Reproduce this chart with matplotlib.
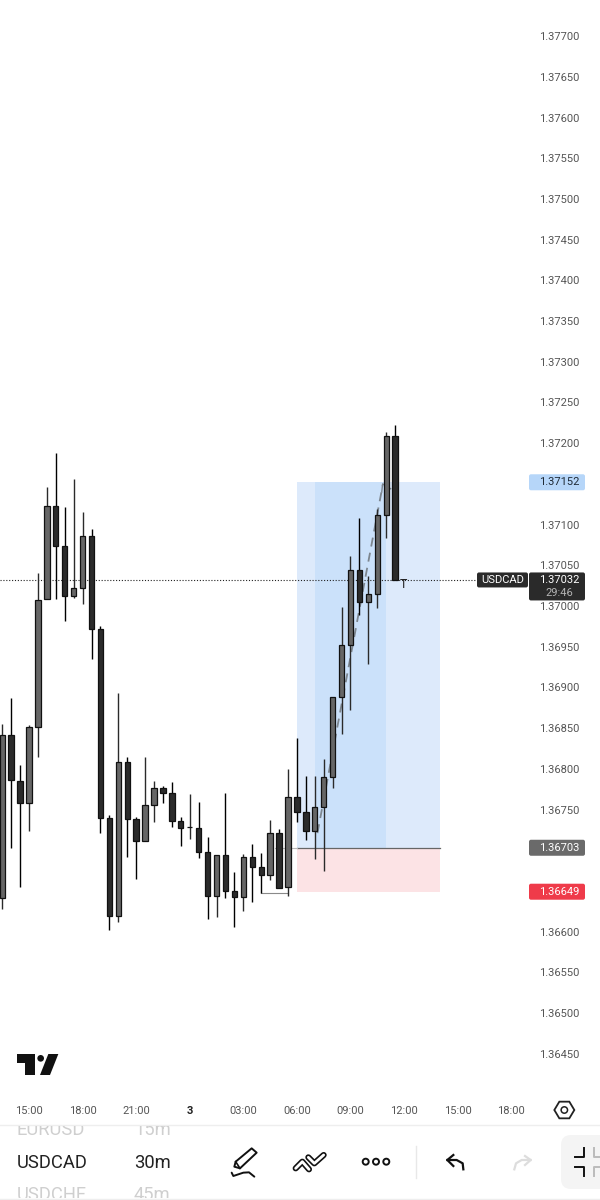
import matplotlib
matplotlib.use("Agg")
import matplotlib.pyplot as plt
import numpy as np
from matplotlib.patches import Rectangle, FancyBboxPatch, Polygon, Circle

plt.rcParams['font.family'] = ['Roboto', 'DejaVu Sans']

# ---- data ----
bar_index = list(range(-3, 42))
opens = [1.36641,1.36842,1.36785,1.36758,1.36851,1.37009,1.37123,1.37074,1.37012,1.37022,
         1.37086,1.36972,1.36740,1.36619,1.36808,1.36738,1.36711,1.36756,1.36776,1.36770,
         1.36736,1.36729,1.36727,1.36698,1.36644,1.36694,1.36650,1.36643,1.36692,1.36679,
         1.36670,1.36721,1.36655,1.36765,1.36747,1.36724,1.36753,1.36790,1.36888,1.36952,
         1.37044,1.37005,1.37015,1.37112,1.37209]
highs = [1.36855,1.36887,1.36805,1.36854,1.37041,1.37146,1.37188,1.37122,1.37156,1.37115,
         1.37095,1.36975,1.36743,1.36893,1.36814,1.36741,1.36814,1.36785,1.36779,1.36784,
         1.36741,1.36769,1.36759,1.36716,1.36694,1.36770,1.36673,1.36695,1.36708,1.36697,
         1.36737,1.36726,1.36800,1.36838,1.36791,1.36791,1.36812,1.36888,1.36999,1.37061,
         1.37108,1.37037,1.37119,1.37214,1.37222]
lows = [1.36628,1.36703,1.36655,1.36724,1.36814,1.37009,1.37009,1.36982,1.37010,1.37002,
        1.36935,1.36721,1.36602,1.36612,1.36692,1.36665,1.36711,1.36735,1.36758,1.36729,
        1.36705,1.36714,1.36690,1.36615,1.36618,1.36641,1.36606,1.36625,1.36636,1.36647,
        1.36663,1.36654,1.36644,1.36735,1.36713,1.36689,1.36674,1.36776,1.36843,1.36872,
        1.36989,1.36929,1.36998,1.37084,1.37032]
closes = [1.36842,1.36786,1.36758,1.36851,1.37007,1.37123,1.37074,1.37012,1.37022,1.37086,
          1.36972,1.36740,1.36619,1.36808,1.36738,1.36711,1.36756,1.36776,1.36770,1.36736,
          1.36727,1.36729,1.36698,1.36644,1.36694,1.36650,1.36643,1.36692,1.36679,1.36670,
          1.36721,1.36654,1.36765,1.36747,1.36724,1.36753,1.36790,1.36888,1.36952,1.37044,
          1.37005,1.37015,1.37112,1.37209,1.37032]

price_ticks = [1.37700,1.37650,1.37600,1.37550,1.37500,1.37450,1.37400,1.37350,1.37300,1.37250,
               1.37200,1.37100,1.37050,1.37000,1.36950,1.36900,1.36850,1.36800,1.36750,
               1.36600,1.36550,1.36500,1.36450]
time_ticks = [0, 6, 12, 18, 24, 30, 36, 42, 48, 54]
time_labels = ['15:00','18:00','21:00','3','03:00','06:00','09:00','12:00','15:00','18:00']

last_price = 1.37032
tp_price = 1.37152
entry_price = 1.36703
sl_price = 1.36649
pos_start, pos_end = 30, 46
inner_start, inner_end = 32, 40
path_x = [32.3, 39.6]
path_y = [1.36721, 1.37148]

UP = '#666666'
DOWN = '#2b2b2b'

fig = plt.figure(figsize=(6, 12), dpi=100, facecolor='white')
ax = fig.add_axes([0, 105/1200, 1, 1095/1200])
ax.set_xlim(-29/8.93, 571/8.93)
ax.set_ylim(1.37 - 489/81400, 1.37 + 606/81400)
for s in ax.spines.values():
    s.set_visible(False)

# position tool
ax.add_patch(Rectangle((pos_start, entry_price), pos_end-pos_start, tp_price-entry_price,
                       fc='#DDEAFB', ec='none', zorder=1))
ax.add_patch(Rectangle((inner_start, entry_price), inner_end-inner_start, tp_price-entry_price,
                       fc='#CBE1FA', ec='none', zorder=1.1))
ax.add_patch(Rectangle((pos_start, sl_price), pos_end-pos_start, entry_price-sl_price,
                       fc='#FCE3E5', ec='none', zorder=1))
ax.plot([pos_start, pos_end], [entry_price, entry_price], color='#666666', lw=0.9, zorder=1.5)

# last price line
ax.axhline(last_price, xmax=477/600, color='#222222', lw=0.8, ls=(0, (1, 1.6)), zorder=1.6)

# dashed path
ax.plot(path_x, path_y, color='#7d868f', lw=1.3, ls=(0, (5, 3.5)), zorder=1.7)
ax.plot([path_x[1]-0.1, path_x[1], path_x[1]+0.9], [path_y[1]-0.00008, path_y[1]+0.00002, path_y[1]-0.00004],
        color='#7d868f', lw=1.0, zorder=1.7)

# faint helper lines
ax.plot([26, 29], [1.36647, 1.36647], color='#8a8a8a', lw=0.8, zorder=1.7)
ax.plot([27.5, 30], [1.36703, 1.36703], color='#bbbbbb', lw=0.8, zorder=1.7)

# candles
xs = np.array(bar_index)
o, h, l, c = map(np.array, (opens, highs, lows, closes))
up = c >= o
wick_cols = ['#2a2a2a' if u else '#000000' for u in up]
ax.vlines(xs, l, h, colors=wick_cols, lw=1.0, zorder=2)
ax.bar(xs, np.abs(c-o), bottom=np.minimum(o, c), width=0.6,
       color=[UP if u else DOWN for u in up], edgecolor='#111111', linewidth=0.9, zorder=3)

# alert marker
ax.text(41.95, last_price-0.00006, 'T', fontsize=9, color='#222222', ha='center', va='center', zorder=4)

# axis ticks
ax.yaxis.tick_right()
ax.set_yticks(price_ticks)
ax.set_yticklabels([f'{p:.5f}' for p in price_ticks], fontsize=8, color='#555555')
ax.tick_params(axis='y', length=0, pad=-44)
ax.set_xticks(time_ticks)
ax.set_xticklabels(time_labels, fontsize=8, color='#555555')
ax.tick_params(axis='x', length=0, pad=8)
ax.get_xticklabels()[3].set_fontweight('bold')
ax.get_xticklabels()[3].set_color('#222222')

# ---- overlay in pixel space ----
ov = fig.add_axes([0, 0, 1, 1], zorder=10)
ov.set_xlim(0, 600)
ov.set_ylim(1200, 0)
ov.axis('off')
ov.patch.set_alpha(0)

def py(price):
    return 606 - (price - 1.37) * 81400

def tag(x0, x1, y0, y1, color, z=5):
    ov.add_patch(FancyBboxPatch((x0+2, y0+2), x1-x0-4, y1-y0-4,
                                boxstyle='round,pad=2,rounding_size=2', fc=color, ec='none', zorder=z))

def ptag(price, color, tc):
    y = py(price)
    tag(529, 585, y-8, y+8, color)
    ov.text(559, y, f'{price:.5f}', fontsize=8, color=tc, ha='center', va='center', zorder=6)

ptag(tp_price, '#B6D6F9', '#1f2a36')
ptag(entry_price, '#6A6A6A', '#ffffff')
ptag(sl_price, '#EF3B4A', '#ffffff')

y = py(last_price)
tag(477, 528, y-7.5, y+7.5, '#2a2a2a')
ov.text(502.5, y, 'USDCAD', fontsize=8, color='#ffffff', ha='center', va='center', zorder=6)
tag(529, 585, y-7.5, y+20.5, '#2a2a2a')
ov.text(559, y, f'{last_price:.5f}', fontsize=8, color='#ffffff', ha='center', va='center', zorder=6)
ov.text(559, y+13, '29:46', fontsize=8, color='#b5b5b5', ha='center', va='center', zorder=6)

# TradingView logo
K = '#111111'
def zp(pts, ox=0, oy=1040):
    return [(ox + a/3, oy + b/3) for a, b in pts]
ov.add_patch(Polygon(zp([(50,42),(105,42),(105,105),(76,105),(76,68),(50,68)]), fc=K, ec='none'))
ov.add_patch(Circle((122/3, 1040+55/3), 10/3, fc=K, ec='none'))
ov.add_patch(Polygon(zp([(145,42),(175,42),(150,105),(120,105)]), fc=K, ec='none'))

# settings hexagon
ov.add_patch(Polygon(zp([(763,90),(778,65),(808,65),(823,90),(808,115),(778,115)], 300, 1080),
                     fc='none', ec='#222222', lw=1.3))
ov.add_patch(Circle((300+793/3, 1080+90/3), 3.2, fc='none', ec='#222222', lw=1.1))

# bottom panel
ov.add_patch(Rectangle((0, 1125), 600, 75, fc='white', ec='none', zorder=1))
ov.plot([0, 600], [1125, 1125], color='#eeeeee', lw=1, zorder=2)
ov.plot([0, 600], [1198.5, 1198.5], color='#eeeeee', lw=1, zorder=2)
clip = Rectangle((0, 1126), 600, 72, transform=ov.transData)
for txt, tx, ty, col in [('EURUSD', 17, 1130, '#cfcfcf'), ('15m', 134, 1130, '#cfcfcf'),
                         ('USDCAD', 17, 1163, '#222222'), ('30m', 134, 1163, '#222222'),
                         ('USDCHF', 17, 1195, '#cfcfcf'), ('45m', 134, 1195, '#cfcfcf')]:
    t = ov.text(tx, ty, txt, fontsize=13.2, color=col, ha='left', va='center', zorder=3)
    t.set_clip_path(clip)
    t.set_clip_on(True)

# pencil
ov.add_patch(Polygon(zp([(28,80),(32,65),(80,25),(95,38),(45,85)], 225, 1140), fc='none', ec=K, lw=1.4,
                     joinstyle='round', zorder=3))
ov.plot(*zip(*zp([(32,65),(45,85)], 225, 1140)), color=K, lw=1.2, zorder=3)
ov.plot(*zip(*zp([(20,98),(25,108),(40,103),(55,98),(72,97),(88,110)], 225, 1140)), color=K, lw=1.4, zorder=3,
        solid_capstyle='round', solid_joinstyle='round')

# line tool: two overlapping outlined bands
for band in ([(212,85),(232,65),(252,88)], [(250,52),(268,70),(296,45)]):
    pts = zp(band, 225, 1140)
    ov.plot(*zip(*pts), color=K, lw=4.4, zorder=3, solid_joinstyle='round', solid_capstyle='round')
    ov.plot(*zip(*pts), color='white', lw=2.0, zorder=4, solid_joinstyle='round', solid_capstyle='round')

# dots
for cx in (365.7, 376, 386.3):
    ov.add_patch(Circle((cx, 1161.7), 3, fc='none', ec=K, lw=1.4, zorder=3))
ov.plot([415.7, 415.7], [1146, 1178], color='#e8e8e8', lw=1, zorder=3)

# undo / redo
ov.plot(*zip(*zp([(490,268),(488,250),(470,240),(442,240)], 300, 1080)), color=K, lw=1.6, zorder=3)
ov.plot(*zip(*zp([(460,225),(442,240),(460,258)], 300, 1080)), color=K, lw=1.6, zorder=3)
ov.plot(*zip(*zp([(643,268),(648,250),(665,240),(692,240)], 300, 1080)), color='#dddddd', lw=1.6, zorder=3)
ov.plot(*zip(*zp([(675,228),(692,240),(675,255)], 300, 1080)), color='#dddddd', lw=1.6, zorder=3)

# collapse button
ov.add_patch(FancyBboxPatch((569, 1143), 60, 38, boxstyle='round,pad=8,rounding_size=10',
                            fc='#f4f4f4', ec='none', zorder=2, clip_on=True))
ov.plot(*zip(*zp([(825,232),(853,232),(853,205)], 300, 1080)), color=K, lw=1.4, zorder=3)
ov.plot(*zip(*zp([(825,262),(853,262),(853,287)], 300, 1080)), color=K, lw=1.4, zorder=3)
ov.plot(*zip(*zp([(881,205),(881,232),(900,232)], 300, 1080)), color='#bbbbbb', lw=1.4, zorder=3)
ov.plot(*zip(*zp([(900,262),(881,262),(881,287)], 300, 1080)), color='#bbbbbb', lw=1.4, zorder=3)

fig.savefig('out.png', dpi=100, facecolor='white')
